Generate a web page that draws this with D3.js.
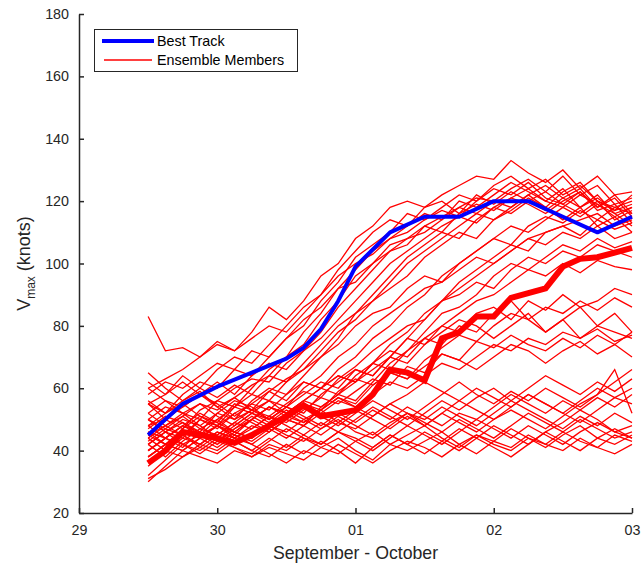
<!DOCTYPE html>
<html>
<head>
<meta charset="utf-8">
<script src="https://cdn.jsdelivr.net/npm/d3@7"></script>
<style>
  body { margin: 0; background: #fff; }
  svg { display: block; font-family: "Liberation Sans", Arial, Helvetica, sans-serif; }
  .axis path, .axis line { stroke: #262626; stroke-width: 1.5; }
  .axis text { fill: #262626; font-size: 14.3px; }
</style>
</head>
<body>
<svg id="chart" width="641" height="569"></svg>
<script>
// time in days after 00 UTC 29 September, 3-hourly from 29 12Z to 03 00Z
var times = d3.range(29).map(function (i) { return 0.5 + i * 0.125 })

var tickDays = [0, 1, 2, 3, 4]
var tickLabels = ["29", "30", "01", "02", "03"]
var yTicks = [20, 40, 60, 80, 100, 120, 140, 160, 180]

// Best track (every 6 h, with a few 3-hourly points)
var bestTime = [0.5, 0.75, 1.0, 1.25, 1.5, 1.625, 1.75, 1.875, 2.0, 2.25, 2.5, 2.75, 3.0, 3.25, 3.5, 3.75, 4.0]
var bestVmax = [45, 55, 60.5, 65, 69.5, 73, 79, 88, 99, 110, 115, 115, 120, 120, 115, 110, 115]

// thick red member
var thickVmax = [36, 40, 46, 45, 44, 42.5, 45, 48, 51, 54.5, 51, 52, 53, 58, 66, 65, 62.5, 76, 78, 83, 83, 89, 90.5, 92, 99, 101.5, 102, 103.5, 105]

// ensemble members (knots)
var members = [
  [60, 63, 66, 70, 74, 72, 78, 86, 82, 88, 96, 100, 108, 112, 118, 120, 118, 122, 125, 128, 127, 133, 129, 126, 130, 124, 128, 122, 123],
  [55, 52, 58, 62, 60, 66, 64, 70, 76, 80, 88, 94, 102, 106, 110, 116, 114, 118, 122, 120, 125, 128, 124, 127, 122, 125, 120, 118, 120],
  [48, 50, 47, 53, 56, 54, 60, 66, 70, 78, 84, 92, 98, 104, 108, 112, 116, 114, 120, 118, 122, 126, 123, 120, 124, 118, 121, 117, 119],
  [62, 58, 64, 60, 66, 70, 68, 74, 80, 86, 90, 96, 100, 103, 108, 110, 114, 117, 115, 120, 124, 122, 126, 121, 119, 123, 118, 122, 116],
  [45, 48, 52, 50, 56, 60, 63, 62, 68, 72, 78, 86, 92, 98, 104, 108, 112, 110, 116, 119, 117, 121, 124, 120, 118, 122, 119, 115, 118],
  [42, 46, 44, 50, 48, 54, 58, 56, 62, 68, 74, 80, 84, 90, 96, 102, 106, 110, 108, 114, 118, 116, 120, 123, 119, 116, 120, 114, 117],
  [52, 56, 54, 58, 62, 58, 64, 68, 66, 72, 76, 82, 88, 94, 100, 104, 108, 112, 115, 113, 118, 121, 119, 116, 120, 123, 117, 119, 113],
  [50, 47, 51, 55, 53, 57, 61, 64, 70, 74, 82, 88, 96, 100, 106, 108, 110, 114, 118, 121, 120, 124, 127, 123, 128, 122, 125, 119, 121],
  [83, 72, 73, 70, 75, 72, 76, 80, 78, 84, 90, 98, 104, 110, 114, 112, 118, 120, 116, 122, 119, 123, 120, 117, 121, 118, 122, 116, 112],
  [58, 62, 60, 64, 68, 66, 72, 70, 76, 82, 86, 92, 94, 100, 104, 106, 112, 115, 118, 116, 120, 118, 122, 118, 114, 118, 112, 115, 110],
  [40, 44, 48, 46, 52, 50, 56, 60, 58, 64, 70, 76, 84, 88, 94, 100, 104, 108, 112, 116, 114, 118, 122, 125, 121, 124, 118, 121, 115],
  [46, 42, 47, 51, 49, 55, 53, 59, 63, 66, 72, 78, 82, 88, 92, 96, 102, 106, 110, 108, 114, 117, 121, 118, 123, 126, 120, 117, 122],
  [44, 48, 45, 50, 47, 52, 55, 53, 58, 62, 60, 66, 70, 76, 80, 86, 90, 96, 100, 104, 108, 106, 112, 115, 113, 117, 114, 118, 116],
  [38, 42, 46, 44, 48, 45, 50, 54, 52, 56, 60, 64, 62, 68, 74, 78, 84, 88, 94, 98, 102, 106, 104, 110, 112, 109, 114, 111, 113],
  [50, 46, 50, 48, 44, 48, 52, 50, 54, 52, 58, 62, 66, 64, 70, 76, 82, 88, 92, 96, 100, 104, 108, 106, 110, 108, 112, 108, 110],
  [35, 40, 44, 42, 40, 44, 42, 46, 50, 48, 54, 58, 56, 62, 68, 72, 78, 84, 86, 90, 96, 100, 98, 102, 106, 104, 108, 105, 107],
  [42, 38, 43, 47, 45, 49, 53, 51, 55, 59, 57, 63, 67, 72, 76, 80, 82, 88, 90, 94, 92, 98, 102, 100, 104, 102, 106, 104, 102],
  [47, 51, 49, 45, 50, 54, 52, 56, 54, 60, 64, 70, 74, 80, 84, 88, 92, 94, 98, 102, 100, 104, 108, 110, 112, 114, 116, 112, 114],
  [56, 52, 56, 60, 57, 61, 58, 64, 62, 66, 70, 74, 80, 84, 86, 92, 96, 94, 100, 104, 108, 112, 110, 114, 118, 115, 119, 116, 118],
  [40, 44, 41, 46, 43, 47, 51, 48, 52, 56, 54, 58, 62, 66, 70, 68, 74, 80, 84, 88, 90, 94, 98, 96, 100, 97, 101, 99, 98],
  [45, 42, 46, 44, 48, 46, 50, 54, 52, 56, 60, 58, 64, 68, 72, 70, 76, 80, 78, 84, 86, 82, 88, 85, 90, 86, 88, 92, 90],
  [38, 42, 40, 44, 48, 45, 43, 47, 51, 49, 53, 57, 55, 61, 65, 63, 69, 73, 77, 75, 80, 84, 82, 86, 84, 88, 85, 89, 86],
  [50, 54, 52, 48, 52, 56, 54, 50, 54, 58, 62, 60, 66, 64, 70, 76, 74, 78, 82, 80, 76, 80, 84, 78, 82, 86, 80, 84, 78],
  [55, 50, 54, 58, 55, 51, 55, 59, 56, 62, 60, 64, 62, 68, 66, 72, 76, 74, 80, 78, 84, 88, 82, 78, 82, 76, 80, 78, 76],
  [36, 40, 38, 42, 46, 44, 48, 46, 50, 48, 52, 56, 54, 58, 62, 60, 64, 68, 66, 70, 74, 72, 76, 74, 78, 76, 79, 75, 77],
  [43, 47, 45, 41, 45, 49, 47, 51, 49, 53, 57, 55, 59, 63, 61, 67, 65, 71, 69, 75, 73, 77, 74, 72, 76, 73, 77, 74, 78],
  [48, 44, 48, 52, 49, 46, 50, 54, 51, 55, 53, 59, 63, 61, 65, 63, 67, 71, 69, 66, 70, 74, 72, 68, 72, 75, 71, 74, 70],
  [46, 44, 48, 45, 42, 46, 44, 48, 45, 43, 47, 50, 46, 44, 48, 52, 49, 46, 50, 47, 44, 48, 52, 49, 46, 50, 47, 44, 46],
  [40, 44, 42, 39, 43, 41, 38, 42, 40, 44, 41, 39, 43, 46, 42, 45, 48, 44, 41, 45, 43, 47, 44, 42, 46, 43, 41, 45, 43],
  [52, 48, 51, 47, 50, 46, 44, 48, 46, 50, 53, 49, 47, 51, 55, 52, 48, 52, 56, 53, 50, 54, 58, 55, 52, 49, 53, 57, 60],
  [32, 37, 42, 40, 44, 41, 39, 43, 47, 44, 42, 46, 43, 40, 44, 48, 45, 42, 46, 50, 47, 44, 48, 45, 42, 46, 49, 46, 44],
  [30, 35, 40, 38, 36, 40, 38, 41, 39, 37, 41, 44, 40, 37, 42, 40, 43, 46, 42, 39, 43, 41, 45, 42, 40, 44, 41, 39, 42],
  [60, 56, 52, 55, 51, 48, 52, 49, 53, 50, 47, 51, 48, 45, 49, 52, 50, 54, 51, 48, 52, 56, 53, 50, 47, 51, 48, 52, 49],
  [65, 60, 56, 59, 54, 50, 53, 56, 52, 49, 53, 57, 54, 51, 55, 58, 62, 59, 56, 60, 57, 54, 58, 55, 52, 56, 60, 57, 55],
  [44, 40, 45, 42, 46, 43, 40, 38, 42, 39, 43, 40, 36, 41, 45, 42, 39, 43, 40, 44, 41, 38, 42, 46, 43, 40, 44, 47, 44],
  [38, 42, 40, 44, 41, 45, 42, 39, 36, 40, 38, 42, 39, 36, 40, 43, 41, 38, 42, 45, 42, 40, 44, 41, 45, 48, 44, 42, 45],
  [50, 46, 42, 45, 48, 44, 47, 51, 48, 45, 49, 46, 50, 54, 51, 48, 52, 56, 53, 57, 60, 56, 60, 64, 61, 58, 62, 59, 63],
  [42, 46, 49, 46, 43, 47, 50, 47, 44, 48, 45, 49, 53, 50, 47, 51, 48, 52, 49, 46, 50, 53, 50, 47, 51, 55, 58, 66, 52],
  [31, 34, 38, 41, 39, 43, 40, 44, 41, 45, 42, 46, 44, 41, 45, 42, 46, 43, 47, 44, 48, 45, 42, 46, 49, 53, 50, 46, 48],
  [48, 52, 55, 51, 48, 52, 49, 46, 50, 54, 51, 48, 52, 56, 53, 50, 54, 58, 62, 58, 55, 59, 56, 60, 57, 54, 58, 62, 66],
  [55, 58, 62, 58, 54, 57, 53, 50, 54, 51, 48, 52, 49, 53, 50, 54, 51, 48, 52, 50, 54, 58, 55, 52, 56, 53, 57, 54, 58]
]

var svg = d3.select("#chart")

var x = d3.scaleLinear().domain([0, 4]).range([79, 632])
var y = d3.scaleLinear().domain([20, 180]).range([513, 14])

// Axes (MATLAB style: ticks inward, no box)
var xAxis = d3.axisBottom(x)
  .tickValues(tickDays)
  .tickFormat(function (d, i) { return tickLabels[i] })
  .tickSizeInner(-5)
  .tickSizeOuter(0)
  .tickPadding(12)

var yAxis = d3.axisLeft(y)
  .tickValues(yTicks)
  .tickSizeInner(-5)
  .tickSizeOuter(0)
  .tickPadding(10)

svg.append("g")
  .attr("class", "axis")
  .attr("transform", "translate(0," + y(20) + ")")
  .call(xAxis)

svg.append("g")
  .attr("class", "axis")
  .attr("transform", "translate(" + x(0) + ",0)")
  .call(yAxis)

var line = d3.line()
  .x(function (d) { return x(d[0]) })
  .y(function (d) { return y(d[1]) })

var plot = svg.append("g")

// thin ensemble members
plot.selectAll(".member")
  .data(members)
  .enter()
  .append("path")
  .attr("class", "member")
  .attr("d", function (m) { return line(m.map(function (v, i) { return [times[i], v] })) })
  .attr("fill", "none")
  .attr("stroke", "#ff0000")
  .attr("stroke-width", 1.3)
  .attr("stroke-linejoin", "miter")

// thick member
plot.append("path")
  .attr("d", line(thickVmax.map(function (v, i) { return [times[i], v] })))
  .attr("fill", "none")
  .attr("stroke", "#ff0000")
  .attr("stroke-width", 6)
  .attr("stroke-linejoin", "miter")

// best track
plot.append("path")
  .attr("d", line(bestVmax.map(function (v, i) { return [bestTime[i], v] })))
  .attr("fill", "none")
  .attr("stroke", "#0000ff")
  .attr("stroke-width", 4)
  .attr("stroke-linejoin", "round")

// axis labels
svg.append("text")
  .attr("x", (x(0) + x(4)) / 2)
  .attr("y", 559)
  .attr("text-anchor", "middle")
  .style("font-size", "17.7px")
  .style("fill", "#262626")
  .text("September - October")

var ylab = svg.append("text")
  .attr("transform", "translate(30," + ((y(20) + y(180)) / 2) + ") rotate(-90)")
  .attr("text-anchor", "middle")
  .style("font-size", "18px")
  .style("fill", "#262626")
ylab.append("tspan").text("V")
ylab.append("tspan").attr("dy", 5).style("font-size", "12px").text("max")
ylab.append("tspan").attr("dy", -5).text(" (knots)")

// legend
var legend = svg.append("g")
legend.append("rect")
  .attr("x", 94.5).attr("y", 29.5)
  .attr("width", 203).attr("height", 42)
  .attr("fill", "#fff")
  .attr("stroke", "#262626")
  .attr("stroke-width", 1)

legend.append("line")
  .attr("x1", 102).attr("x2", 154).attr("y1", 41).attr("y2", 41)
  .attr("stroke", "#0000ff").attr("stroke-width", 4)
legend.append("text")
  .attr("x", 157).attr("y", 46)
  .style("font-size", "14.3px").style("fill", "#000")
  .text("Best Track")

legend.append("line")
  .attr("x1", 104).attr("x2", 152).attr("y1", 60).attr("y2", 60)
  .attr("stroke", "#ff0000").attr("stroke-width", 1.3)
legend.append("text")
  .attr("x", 157).attr("y", 65)
  .style("font-size", "14.3px").style("fill", "#000")
  .text("Ensemble Members")
</script>
</body>
</html>
